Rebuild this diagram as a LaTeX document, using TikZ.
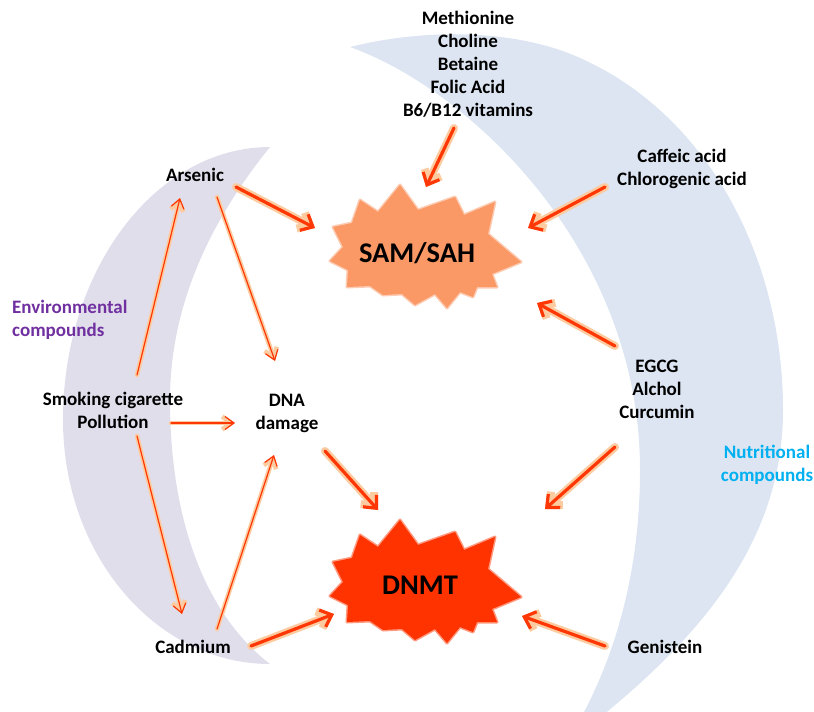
\documentclass[tikz,border=0pt]{standalone}
\usepackage{fontspec}
\setmainfont{Carlito}
\usetikzlibrary{arrows.meta,calc}
\definecolor{lav}{RGB}{225,222,236}
\definecolor{pale}{RGB}{220,229,241}
\definecolor{samc}{RGB}{250,152,102}
\definecolor{dnmtc}{RGB}{255,51,0}
\definecolor{arr}{RGB}{255,55,5}
\definecolor{glow}{RGB}{252,204,160}
\definecolor{envc}{RGB}{112,48,160}
\definecolor{nutc}{RGB}{0,176,240}
\newcommand\myThin[2]{\draw[thnglow] #1 -- #2; \draw[thn] #1 -- #2;}
\newcommand\myThick[2]{\draw[thkglow] #1 -- #2; \draw[thk] #1 -- #2;}
\begin{document}
\begin{tikzpicture}[x=1pt,y=-1pt,
  lbl/.style={font=\bfseries\fontsize{19}{23}\selectfont, align=center, inner sep=0pt},
  big/.style={font=\bfseries\fontsize{28.5}{30}\selectfont, inner sep=0pt},
  thk/.style={draw=arr, line width=3.2pt, line cap=round, -{Straight Barb[length=10pt,width=18pt,line width=3.2pt]}},
  thkglow/.style={draw=glow, line width=8pt, line cap=round, line join=round, -{Straight Barb[length=10pt,width=18pt,line width=8pt]}},
  thn/.style={draw=arr, line width=1.2pt, line cap=round, -{Straight Barb[length=9pt,width=13pt,line width=1.2pt]}},
  thnglow/.style={draw=glow, line width=4.5pt, line cap=round, line join=round, -{Straight Barb[length=9pt,width=13pt,line width=4.5pt]}},
  burst/.pic={\path[pic actions] (-20,-65) -- (-2,-40) -- (35,-53) -- (44,-35) -- (75,-48) -- (68,-16) -- (101,12) -- (72,24) -- (77,37) -- (57,37) -- (53,47) -- (40,42) -- (27,58) -- (15,44) -- (-5,55) -- (-18,44) -- (-37,45) -- (-50,36) -- (-73,37) -- (-72,20) -- (-90,11) -- (-77,-3) -- (-87,-23) -- (-68,-27) -- (-60,-50) -- (-42,-38) -- cycle;}
]
\useasboundingbox (0,0) rectangle (814,712);
\begin{scope}
\clip (0,0) rectangle (814,712);
% left crescent
\fill[lav] (270,147) .. controls (156,147) and (63,269) .. (63,420)
  .. controls (63,555) and (156,664) .. (270,664)
  .. controls (200,610) and (170,510) .. (170,400)
  .. controls (170,300) and (215,215) .. (270,147) -- cycle;
% right crescent
\fill[pale] (350,47) .. controls (410,32) and (490,27) .. (560,50)
  .. controls (700,100) and (783,250) .. (783,410)
  .. controls (783,550) and (690,650) .. (565,745)
  .. controls (600,690) and (640,600) .. (640,470)
  .. controls (640,250) and (470,90) .. (350,47) -- cycle;
\end{scope}
% bursts
\pic[fill=samc, draw=samc, draw opacity=0.5, line width=3pt, line join=round] at (420,250) {burst};
\pic[fill=dnmtc, draw=dnmtc, draw opacity=0.5, line width=3pt, line join=round] at (420,585) {burst};
% texts
\node[lbl] (meth) at (468,64) {Methionine\\Choline\\Betaine\\Folic Acid\\B6/B12 vitamins};
\node[lbl] (caff) at (682,169) {Caffeic acid\\Chlorogenic acid};
\node[lbl] (arsenic) at (195,175) {Arsenic};
\node[big] (sam) at (417,253) {SAM/SAH};
\node[lbl, text=envc, align=left, anchor=west] (env) at (12,320) {Environmental\\compounds};
\node[lbl] (egcg) at (657,389) {EGCG\\Alchol\\Curcumin};
\node[lbl] (smoke) at (113,410) {Smoking cigarette\\Pollution};
\node[lbl] (dna) at (287,413) {DNA\\damage};
\node[lbl, text=nutc] (nut) at (767,465) {Nutritional\\compounds};
\node[big] (dnmt) at (420,585) {DNMT};
\node[lbl] (cad) at (193,647) {Cadmium};
\node[lbl] (gen) at (665,647) {Genistein};
% thin arrows
\myThin{($(smoke)+(24,-35)$)}{($(arsenic)+(-15,23)$)}
\myThin{($(arsenic)+(22,22)$)}{($(dna)+(-12,-52)$)}
\myThin{($(smoke)+(58,13)$)}{($(dna)+(-52,10)$)}
\myThin{($(smoke)+(24,26)$)}{($(cad)+(-11,-33)$)}
\myThin{($(cad)+(24,-18)$)}{($(dna)+(-13,42)$)}
% thick arrows
\myThick{($(arsenic)+(41,12)$)}{($(sam)+(-102,-25)$)}
\myThick{($(meth)+(-14,64)$)}{($(sam)+(9,-66)$)}
\myThick{($(caff)+(-77,18)$)}{($(sam)+(111,-25)$)}
\myThick{($(egcg)+(-42,-43)$)}{($(sam)+(120,50)$)}
\myThick{($(dna)+(38,38)$)}{($(dnmt)+(-42,-75)$)}
\myThick{($(egcg)+(-42,58)$)}{($(dnmt)+(125,-76)$)}
\myThick{($(cad)+(58,-1)$)}{($(dnmt)+(-86,29)$)}
\myThick{($(gen)+(-60,-1)$)}{($(dnmt)+(102,31)$)}
\end{tikzpicture}
\end{document}
